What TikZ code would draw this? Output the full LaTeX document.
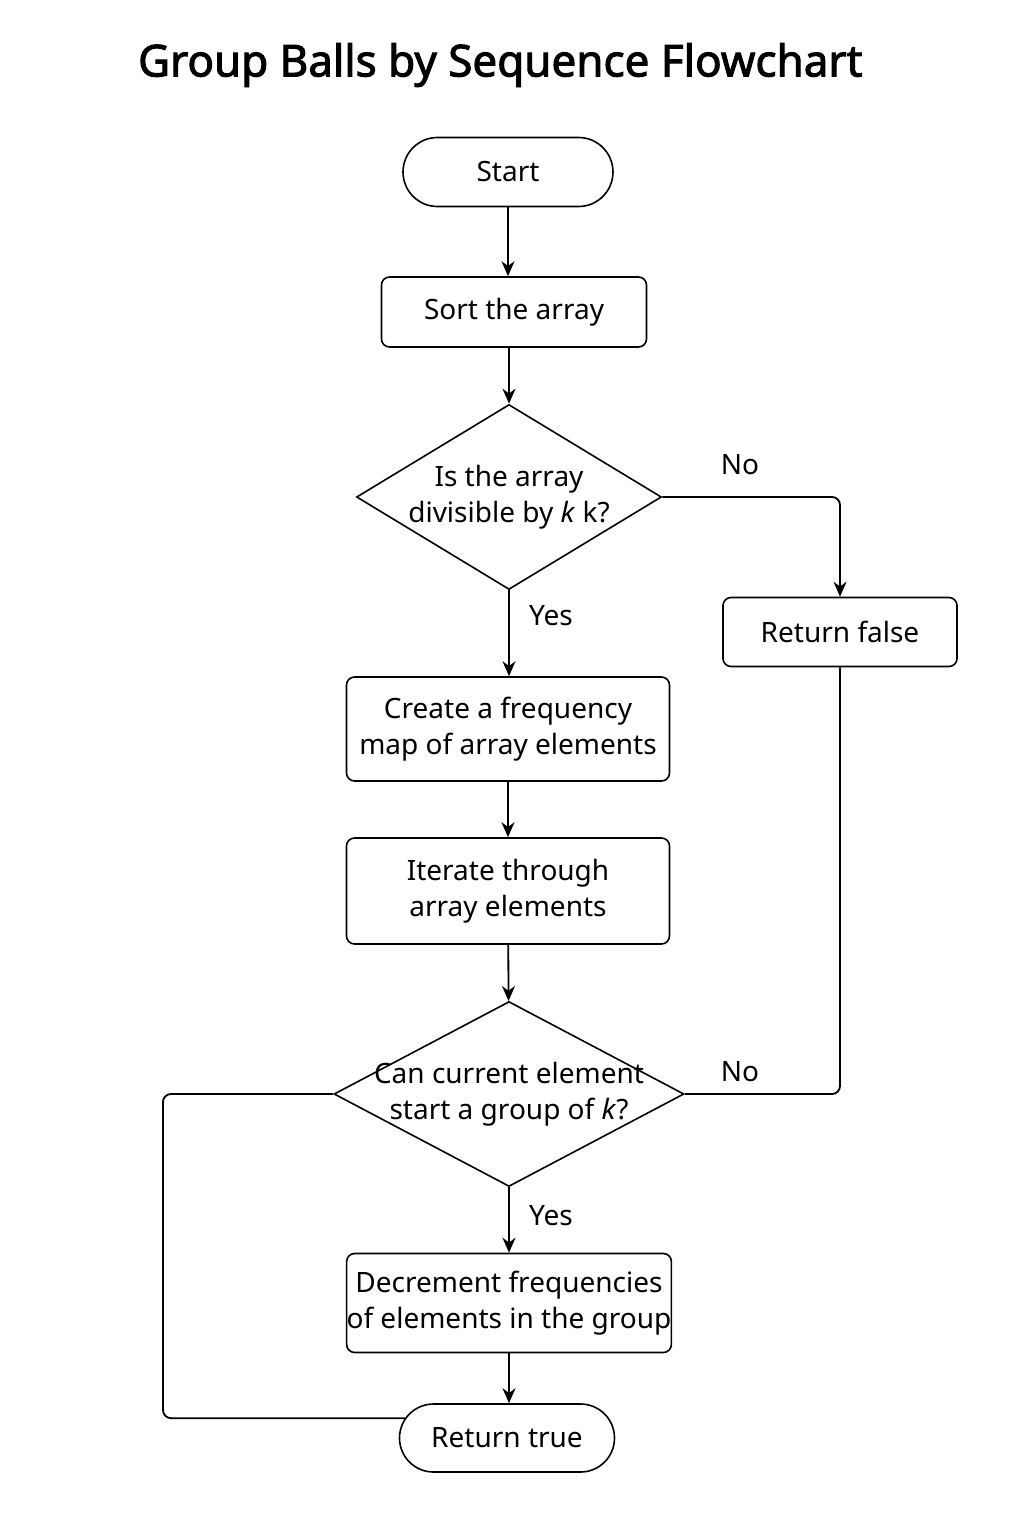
\documentclass[tikz,border=0pt]{standalone}
\usepackage{fontspec}
\setmainfont{Noto Sans}
\newfontfamily\titlefont{Noto Sans}[FakeBold=2.2]
\usetikzlibrary{arrows.meta,shapes.geometric,shapes.misc}

\begin{document}
\begin{tikzpicture}[x=0.5pt,y=-0.5pt,
	every node/.style={font=\fontsize{14}{18}\selectfont},
	term/.style={draw,line width=0.8pt,rounded rectangle,inner sep=0pt},
	proc/.style={draw,line width=0.8pt,rounded corners=4pt,align=center,inner sep=0pt},
	decision/.style={draw,line width=0.8pt,diamond,inner sep=0pt},
	line/.style={line width=0.9pt,rounded corners=4pt},
	arr/.style={line,-{Stealth[length=7.5pt,width=6.5pt]}}]
			%%%%% START %%%%%
			\useasboundingbox (0,0) rectangle (1024,1536);
			
			\node[anchor=west,font=\titlefont\fontsize{22}{26}\selectfont] (title) at (131,65) {Group Balls by Sequence Flowchart};
			
			\node[term,minimum width=105pt,minimum height=34.5pt] (start) at (508,172) {Start};
			\node[proc,minimum width=132.5pt,minimum height=35pt] (sort) at (514,312) {Sort the array};
			\node[decision,minimum width=152.5pt,minimum height=92.5pt,
				label={[align=center]center:Is the array\\divisible by \textit{k} k?}] (div) at (509,497) {};
			\node[proc,minimum width=117pt,minimum height=34.5pt] (false) at (840,632) {Return false};
			\node[proc,minimum width=161.5pt,minimum height=52pt] (freq) at (508,729) {Create a frequency\\map of array elements};
			\node[proc,minimum width=161.5pt,minimum height=53pt] (iter) at (508,891) {Iterate through\\array elements};
			\node[decision,minimum width=175pt,minimum height=92.5pt,
				label={[align=center]center:Can current element\\start a group of \textit{k}?}] (can) at (509,1094) {};
			\node[proc,minimum width=161pt,minimum height=49.5pt] (dec) at (509,1303) {Decrement frequencies\\of elements in the group};
			\node[term,minimum width=107.5pt,minimum height=34pt] (true) at (507,1438) {Return true};
			
			\node (no1) at (740,465) {No};
			\node (yes1) at (551,616) {Yes};
			\node (no2) at (740,1072) {No};
			\node (yes2) at (551,1216) {Yes};
			
			\draw[arr] (start.south) -- (start.south |- sort.north);
			\draw[arr] (div.north |- sort.south) -- (div.north);
			\draw[arr] (div.east) -| (false.north);
			\draw[arr] (div.south) -- (div.south |- freq.north);
			\draw[arr] (freq) -- (iter);
			\draw[arr] (iter) -- (can);
			\draw[arr] (can) -- (dec);
			\draw[arr] (dec.south) -- (dec.south |- true.north);
			\draw[line] (can.east) -| (false.south);
			\coordinate (loop) at (163,0);
			\draw[line] (can.west) -| (loop |- true.169) -- (true.169);
			%%%%% END %%%%%
		\end{tikzpicture}
\end{document}
